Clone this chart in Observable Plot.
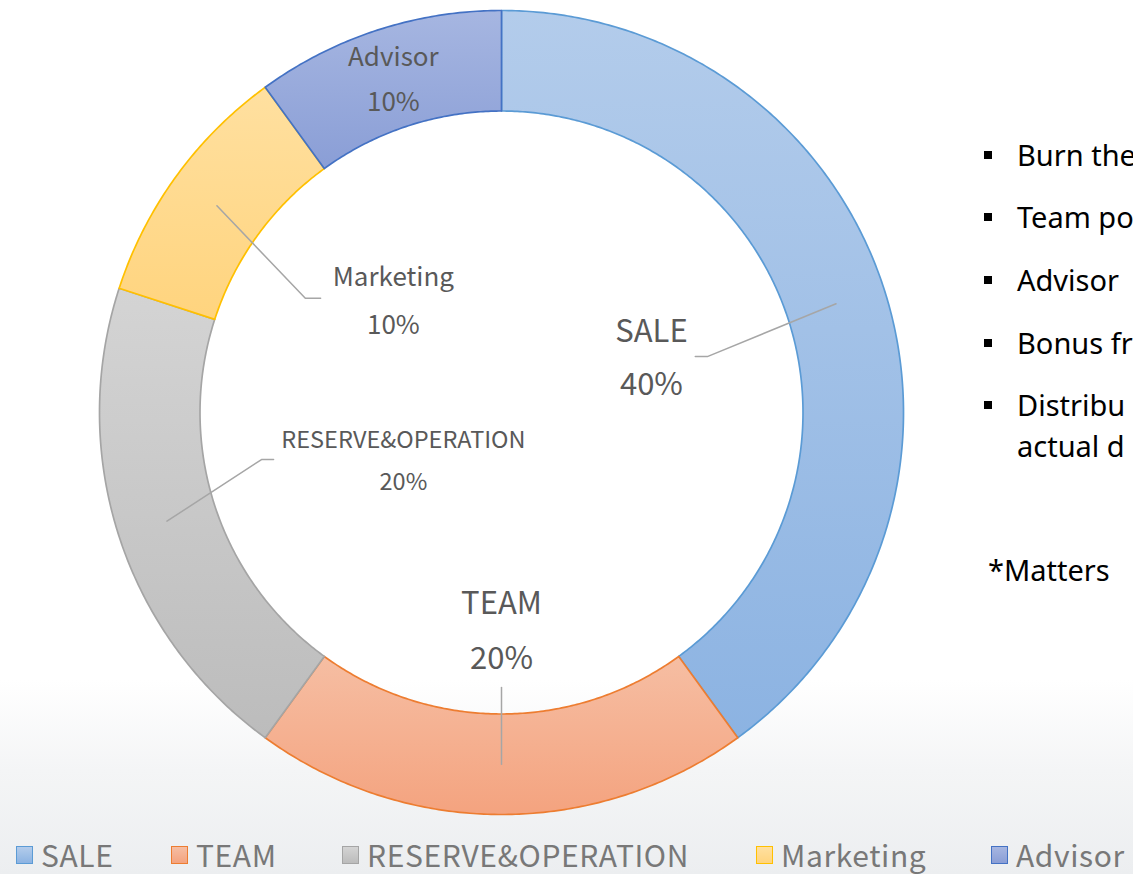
<!DOCTYPE html>
<html><head><meta charset="utf-8">
<script src="https://cdn.jsdelivr.net/npm/d3@7"></script>
<script src="https://cdn.jsdelivr.net/npm/@observablehq/plot@0.6"></script>
<style>
html,body{margin:0;padding:0;width:1133px;height:874px;overflow:hidden}
body{position:relative;background:linear-gradient(to bottom,#ffffff 0px,#ffffff 680px,#f4f5f6 770px,#eceef0 874px);font-family:"Noto Sans CJK TC","Noto Sans",sans-serif}
#chart{position:absolute;left:0;top:0}
#legend{position:absolute;left:0;top:837px;width:1133px;height:34px;font-size:30px;letter-spacing:0.6px;color:#787878;font-family:"Noto Sans CJK TC","Noto Sans",sans-serif}
#legend .item{position:absolute;top:0;height:34px;line-height:34px;display:flex;align-items:center;white-space:nowrap}
#legend .sw{box-sizing:border-box;width:17px;height:18px;border:1.5px solid;margin-right:8px;margin-top:1px}
#notes{position:absolute;left:0;top:0;width:1133px;height:874px;pointer-events:none;font-size:29px;color:#000;font-family:"Noto Sans",sans-serif}
#notes .ln{position:absolute;left:1017px;white-space:nowrap;line-height:34px;transform:translateY(-50%)}
#notes .sq{position:absolute;left:984px;width:8px;height:8px;background:#000;transform:translateY(-50%)}
</style></head>
<body>
<div id="chart"></div>
<div id="notes"></div>
<div id="legend"></div>
<svg width="0" height="0" style="position:absolute"><defs id="gdefs"></defs></svg>
<script>
// ---- data ----
const categories = ["SALE", "TEAM", "RESERVE&OPERATION", "Marketing", "Advisor"];
const shares = [40, 20, 20, 10, 10];
const pctLabels = ["40%", "20%", "20%", "10%", "10%"];
const noteLines = ["Burn the", "Team po", "Advisor", "Bonus fr", "Distribu", "actual d"];
const noteBullets = [true, true, true, true, true, false];
const footNote = "*Matters";

// ---- styles ----
const strokeColors = ["#5b9bd5", "#ed7d31", "#a5a5a5", "#ffc000", "#4472c4"];
const gradTop = ["#b3cceb", "#f6bea3", "#d4d4d4", "#ffe0a0", "#a6b6e1"];
const gradBottom = ["#8cb3e2", "#f4a37f", "#bcbcbc", "#ffd47e", "#8a9ed6"];
const labelSize = [31, 31, 23.5, 26, 26];
const labelGap = [53, 55, 42, 48, 45];
// label anchor (chart units, radius = 1) and leader elbow/end
const labelLayout = [
  {lx: 0.373, ly: 0.133, leader: [[0.512, 0.139], [0.482, 0.139]]},
  {lx: 0.0, ly: -0.544, leader: [[0, -0.684]]},
  {lx: -0.244, ly: -0.122, leader: [[-0.597, -0.117], [-0.567, -0.117]]},
  {lx: -0.269, ly: 0.276, leader: [[-0.488, 0.284], [-0.450, 0.284]]},
  {lx: -0.269, ly: 0.827, leader: null}
];
const innerR = 0.75;

// gradients
const defs = d3.select("#gdefs");
categories.forEach((c, i) => {
  const g = defs.append("linearGradient").attr("id", "grad" + i).attr("x1", 0).attr("y1", 0).attr("x2", 0).attr("y2", 1);
  g.append("stop").attr("offset", "0%").attr("stop-color", gradTop[i]);
  g.append("stop").attr("offset", "100%").attr("stop-color", gradBottom[i]);
});

const rows = categories.map((c, i) => ({name: c, share: shares[i], pct: pctLabels[i], i}));
const arcs = d3.pie().sort(null).value(d => d.share)(rows);

function ringPoints(a) {
  const pts = [];
  const n = Math.max(2, Math.ceil((a.endAngle - a.startAngle) / (Math.PI / 360)));
  for (let k = 0; k <= n; k++) {
    const t = a.startAngle + (a.endAngle - a.startAngle) * k / n;
    pts.push({x: Math.sin(t), y: Math.cos(t)});
  }
  for (let k = n; k >= 0; k--) {
    const t = a.startAngle + (a.endAngle - a.startAngle) * k / n;
    pts.push({x: innerR * Math.sin(t), y: innerR * Math.cos(t)});
  }
  return pts;
}

const marks = [];
arcs.forEach(a => {
  const i = a.data.i;
  marks.push(Plot.line(ringPoints(a), {x: "x", y: "y", curve: "linear-closed",
    fill: `url(#grad${i})`, stroke: strokeColors[i], strokeWidth: 1.7, strokeLinejoin: "round"}));
});
// leader lines
arcs.forEach(a => {
  const i = a.data.i, L = labelLayout[i];
  if (!L.leader) return;
  const mid = (a.startAngle + a.endAngle) / 2, r = (1 + innerR) / 2;
  const pts = [{x: r * Math.sin(mid), y: r * Math.cos(mid)}, ...L.leader.map(([x, y]) => ({x, y}))];
  marks.push(Plot.line(pts, {x: "x", y: "y", stroke: "#a6a6a6", strokeWidth: 1.5, curve: "linear"}));
});
// labels
rows.forEach((d, i) => {
  const L = labelLayout[i];
  const pos = [{x: L.lx, y: L.ly, name: d.name, pct: d.pct}];
  marks.push(Plot.text(pos, {x: "x", y: "y", text: "name", dy: -labelGap[i] / 2, fontSize: labelSize[i], fill: "#595959", fontFamily: '"Noto Sans CJK TC","Noto Sans",sans-serif'}));
  marks.push(Plot.text(pos, {x: "x", y: "y", text: "pct", dy: labelGap[i] / 2, fontSize: labelSize[i], fill: "#595959", fontFamily: '"Noto Sans CJK TC","Noto Sans",sans-serif'}));
});

const chart = Plot.plot({
  width: 1133, height: 874,
  margin: 0,
  x: {domain: [-1, 1], range: [99, 903], axis: null},
  y: {domain: [-1, 1], range: [814, 10], axis: null},
  style: {background: "transparent", overflow: "visible"},
  marks
});
document.getElementById("chart").appendChild(chart);

// legend
const legendX = [16, 171, 342, 756, 991];
const legend = d3.select("#legend");
categories.forEach((c, i) => {
  const it = legend.append("div").attr("class", "item").style("left", legendX[i] + "px");
  it.append("div").attr("class", "sw").style("border-color", strokeColors[i])
    .style("background", `linear-gradient(${gradTop[i]}, ${gradBottom[i]})`);
  it.append("span").text(c);
});

// notes on the right
const noteY = [155, 217, 280, 343, 405, 446];
const notes = d3.select("#notes");
noteLines.forEach((t, i) => {
  if (noteBullets[i]) notes.append("div").attr("class", "sq").style("top", noteY[i] + "px");
  notes.append("div").attr("class", "ln").style("top", noteY[i] + "px").text(t);
});
notes.append("div").attr("class", "ln").style("top", "570px").style("left", "988px").text(footNote);
</script>
</body></html>
